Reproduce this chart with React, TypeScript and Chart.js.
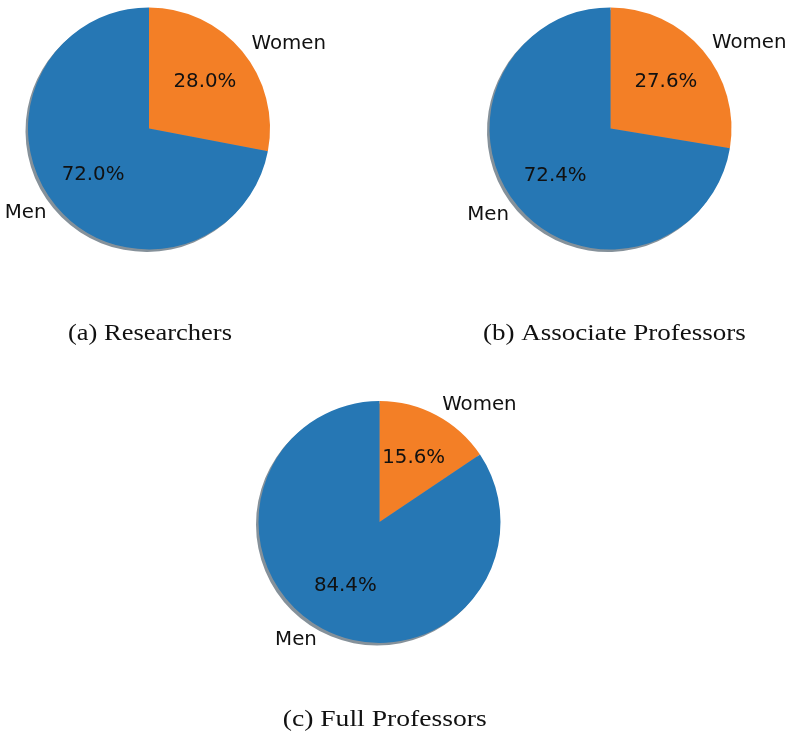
import React, { useEffect, useRef } from "react";
import { Chart, registerables } from "chart.js";

Chart.register(...registerables);

// Slice order: first slice starts at 12 o'clock and runs clockwise.
const categories = ["Women", "Men"];
const researchers = [28.0, 72.0];
const associateProfessors = [27.6, 72.4];
const fullProfessors = [15.6, 84.4];
const captions = ["(a) Researchers", "(b) Associate Professors", "(c) Full Professors"];
const sliceColors = ["#f37f26", "#2677b4"];

const LABEL_FONT = '19.8px "DejaVu Sans", sans-serif';
const CAPTION_FONT = '23px "Liberation Serif", serif';
const TEXT_COLOR = "#111111";
const RADIUS = 121;
const SHADOW_SHIFT = 2.5;

type Frame = {
  left: number;
  top: number;
  width: number;
  height: number;
  cx: number;
  cy: number;
  captionX: number;
  captionY: number;
  captionWidth: number;
};

function darkened(hex: string): string {
  const n = parseInt(hex.slice(1), 16);
  const r = Math.round(((n >> 16) & 255) * 0.3);
  const g = Math.round(((n >> 8) & 255) * 0.3);
  const b = Math.round((n & 255) * 0.3);
  return `rgba(${r},${g},${b},0.5)`;
}

const wedgeShadow = {
  id: "wedgeShadow",
  beforeDatasetsDraw(chart: any) {
    const ctx = chart.ctx as CanvasRenderingContext2D;
    const meta = chart.getDatasetMeta(0);
    const colors = chart.data.datasets[0].backgroundColor as string[];
    ctx.save();
    meta.data.forEach((arc: any, i: number) => {
      const p = arc.getProps(["x", "y", "startAngle", "endAngle", "outerRadius"], true);
      const x = p.x - SHADOW_SHIFT;
      const y = p.y + SHADOW_SHIFT;
      ctx.beginPath();
      ctx.moveTo(x, y);
      ctx.arc(x, y, p.outerRadius, p.startAngle, p.endAngle);
      ctx.closePath();
      ctx.fillStyle = darkened(colors[i]);
      ctx.fill();
    });
    ctx.restore();
  },
};

const sliceLabels = {
  id: "sliceLabels",
  afterDatasetsDraw(chart: any) {
    const ctx = chart.ctx as CanvasRenderingContext2D;
    const meta = chart.getDatasetMeta(0);
    const values = chart.data.datasets[0].data as number[];
    const labels = chart.data.labels as string[];
    const total = values.reduce((a, b) => a + b, 0);
    ctx.save();
    ctx.font = LABEL_FONT;
    ctx.fillStyle = TEXT_COLOR;
    ctx.textBaseline = "middle";
    meta.data.forEach((arc: any, i: number) => {
      const p = arc.getProps(["x", "y", "startAngle", "endAngle", "outerRadius"], true);
      const mid = (p.startAngle + p.endAngle) / 2;
      const c = Math.cos(mid);
      const s = Math.sin(mid);
      // category name just outside the rim
      ctx.textAlign = c > 0 ? "left" : "right";
      ctx.fillText(labels[i], p.x + 1.1 * p.outerRadius * c, p.y + 1.1 * p.outerRadius * s);
      // share inside the wedge
      ctx.textAlign = "center";
      const pct = ((values[i] / total) * 100).toFixed(1) + "%";
      ctx.fillText(pct, p.x + 0.6 * p.outerRadius * c, p.y + 0.6 * p.outerRadius * s);
    });
    ctx.restore();
  },
};

function PiePanel({ values, caption, frame }: { values: number[]; caption: string; frame: Frame }) {
  const ref = useRef<HTMLCanvasElement | null>(null);

  useEffect(() => {
    if (!ref.current) return;
    const captionPlugin = {
      id: "caption",
      afterDraw(chart: any) {
        const ctx = chart.ctx as CanvasRenderingContext2D;
        ctx.save();
        ctx.font = CAPTION_FONT;
        ctx.fillStyle = TEXT_COLOR;
        ctx.textBaseline = "alphabetic";
        ctx.textAlign = "center";
        const natural = ctx.measureText(caption).width;
        const sx = frame.captionWidth / natural;
        ctx.translate(frame.captionX - frame.left, frame.captionY - frame.top);
        ctx.scale(sx, 1);
        ctx.fillText(caption, 0, 0);
        ctx.restore();
      },
    };
    const padLeft = frame.cx - frame.left - RADIUS;
    const padRight = frame.left + frame.width - frame.cx - RADIUS;
    const padTop = frame.cy - frame.top - RADIUS;
    const padBottom = frame.top + frame.height - frame.cy - RADIUS;
    const chart = new Chart(ref.current, {
      type: "pie",
      data: {
        labels: categories,
        datasets: [
          {
            data: values,
            backgroundColor: sliceColors,
            borderWidth: 0,
            hoverOffset: 0,
          },
        ],
      },
      options: {
        animation: false,
        responsive: false,
        events: [],
        layout: { padding: { left: padLeft, right: padRight, top: padTop, bottom: padBottom } },
        plugins: {
          legend: { display: false },
          tooltip: { enabled: false },
        },
      },
      plugins: [wedgeShadow, sliceLabels, captionPlugin],
    });
    return () => chart.destroy();
  }, [values, caption, frame]);

  return (
    <canvas
      ref={ref}
      width={frame.width}
      height={frame.height}
      style={{
        position: "absolute",
        left: frame.left,
        top: frame.top,
        width: frame.width,
        height: frame.height,
      }}
    />
  );
}

const frames: Frame[] = [
  { left: 0, top: 0, width: 380, height: 355, cx: 149, cy: 128.5, captionX: 150, captionY: 340, captionWidth: 164 },
  { left: 400, top: 0, width: 389, height: 355, cx: 610.5, cy: 128.5, captionX: 614.4, captionY: 339.5, captionWidth: 263 },
  { left: 200, top: 380, width: 389, height: 359, cx: 379.5, cy: 522, captionX: 384.7, captionY: 725.7, captionWidth: 204 },
];

export default function App() {
  return (
    <div style={{ position: "absolute", left: 0, top: 0, width: 789, height: 739, background: "#ffffff" }}>
      <PiePanel values={researchers} caption={captions[0]} frame={frames[0]} />
      <PiePanel values={associateProfessors} caption={captions[1]} frame={frames[1]} />
      <PiePanel values={fullProfessors} caption={captions[2]} frame={frames[2]} />
    </div>
  );
}
